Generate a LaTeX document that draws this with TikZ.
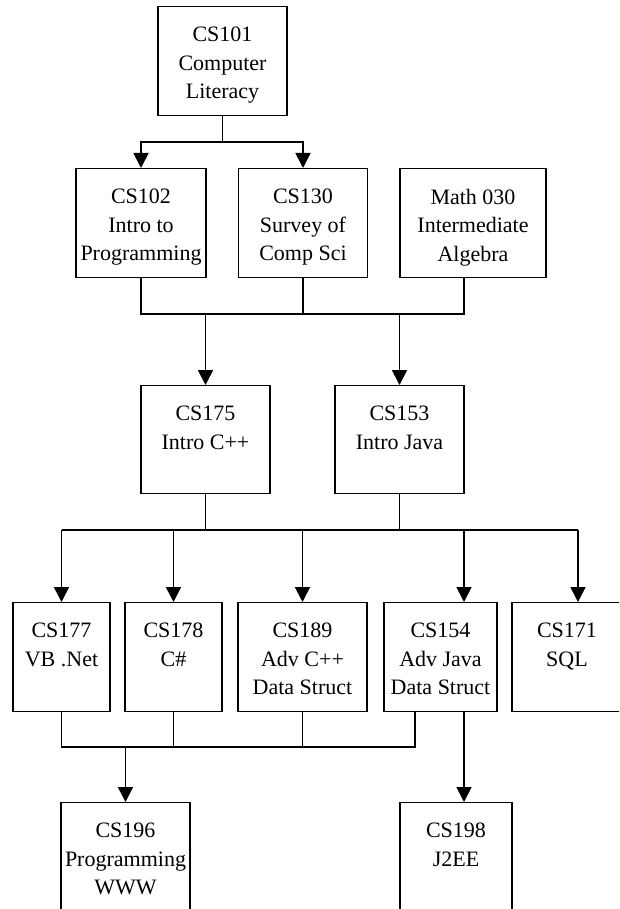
\documentclass[tikz,border=0pt]{standalone}
\usepackage{fontspec}
\setmainfont{Liberation Serif}
\usetikzlibrary{arrows.meta}
\tikzset{
  course/.style={draw=black, line width=1.1pt, rectangle, inner sep=0pt, anchor=north},
  lbl/.style={anchor=north, align=center, inner sep=0pt, yshift=-21pt,
    font=\fontsize{22}{28.5}\selectfont},
  thinline/.style={draw=black, line width=1.1pt},
  arr/.style={draw=black, line width=1.8pt, -{Triangle[length=15pt,width=15pt]}},
  arrline/.style={draw=black, line width=1.8pt}
}
\begin{document}
\begin{tikzpicture}[x=1pt,y=-1pt]
\useasboundingbox (0,0) rectangle (619,909);
\fill[white] (0,0) rectangle (619,909);
\clip (0,0) rectangle (619,909);
% row 1
\node[course, minimum width=129pt, minimum height=109pt, label={[lbl]north:CS101\\Computer\\Literacy}] (cs101) at (222.5,6) {};
% row 2
\node[course, minimum width=130pt, minimum height=109pt, label={[lbl]north:CS102\\Intro to\\Programming}] (cs102) at (141,168) {};
\node[course, minimum width=129pt, minimum height=109pt, label={[lbl]north:CS130\\Survey of\\Comp Sci}] (cs130) at (303,168) {};
\node[course, minimum width=146pt, minimum height=109pt, label={[lbl]north:Math 030\\Intermediate\\Algebra}] (math030) at (473,168) {};
% row 3
\node[course, minimum width=129pt, minimum height=108pt, label={[lbl]north:CS175\\Intro C++}] (cs175) at (205.5,385) {};
\node[course, minimum width=129pt, minimum height=108pt, label={[lbl]north:CS153\\Intro Java}] (cs153) at (399.5,385) {};
% row 4
\node[course, minimum width=97pt, minimum height=109pt, label={[lbl]north:CS177\\VB .Net}] (cs177) at (61.5,602) {};
\node[course, minimum width=97pt, minimum height=109pt, label={[lbl]north:CS178\\C\#}] (cs178) at (173.5,602) {};
\node[course, minimum width=129pt, minimum height=109pt, label={[lbl]north:CS189\\Adv C++\\Data Struct}] (cs189) at (302.5,602) {};
\node[course, minimum width=113pt, minimum height=109pt, label={[lbl]north:CS154\\Adv Java\\Data Struct}] (cs154) at (440.5,602) {};
\node[course, minimum width=110pt, minimum height=109pt, label={[lbl]north:CS171\\SQL}] (cs171) at (567,602) {};
% row 5
\node[course, minimum width=129pt, minimum height=120pt, label={[lbl]north:CS196\\Programming\\WWW}] (cs196) at (125.5,802) {};
\node[course, minimum width=112pt, minimum height=120pt, label={[lbl]north:CS198\\J2EE}] (cs198) at (456,802) {};
% junction coordinates
\coordinate (j1) at (222.5,142);
\coordinate (j2l) at (141,314);
\coordinate (j2r) at (464,314);
\coordinate (j3l) at (61.5,530);
\coordinate (j3r) at (578,530);
\coordinate (j4l) at (61.5,747);
\coordinate (j4r) at (415,747);
\coordinate (m30) at (464,277);
\coordinate (c154a) at (415,711);
\coordinate (c154b) at (464,711);
% CS101 -> CS102, CS130
\draw[arrline] (cs101.south) -- (j1);
\draw[arr] (j1) -| (cs102.north);
\draw[arr] (j1) -| (cs130.north);
% row 2 -> CS175, CS153
\draw[thinline] (cs102.south) -- (j2l) -- (j2r) -- (m30);
\draw[thinline] (cs130.south) -- (cs130.south |- j2l);
\draw[arr] (cs175.north |- j2l) -- (cs175.north);
\draw[arr] (cs153.north |- j2l) -- (cs153.north);
% CS175, CS153 -> row 4
\draw[thinline] (cs175.south) -- (cs175.south |- j3l);
\draw[thinline] (cs153.south) -- (cs153.south |- j3l);
\draw[thinline] (j3l) -- (j3r);
\draw[arr] (j3l) -- (cs177.north);
\draw[arr] (cs178.north |- j3l) -- (cs178.north);
\draw[arr] (cs189.north |- j3l) -- (cs189.north);
\draw[arr] (464,530) -- (464,602);
\draw[arr] (j3r) -- (j3r |- cs171.north);
% row 4 -> CS196
\draw[thinline] (cs177.south) -- (j4l) -- (j4r) -- (c154a);
\draw[thinline] (cs178.south) -- (cs178.south |- j4l);
\draw[thinline] (cs189.south) -- (cs189.south |- j4l);
\draw[arr] (cs196.north |- j4l) -- (cs196.north);
% CS154 -> CS198
\draw[arr] (c154b) -- (c154b |- cs198.north);
\end{tikzpicture}
\end{document}
